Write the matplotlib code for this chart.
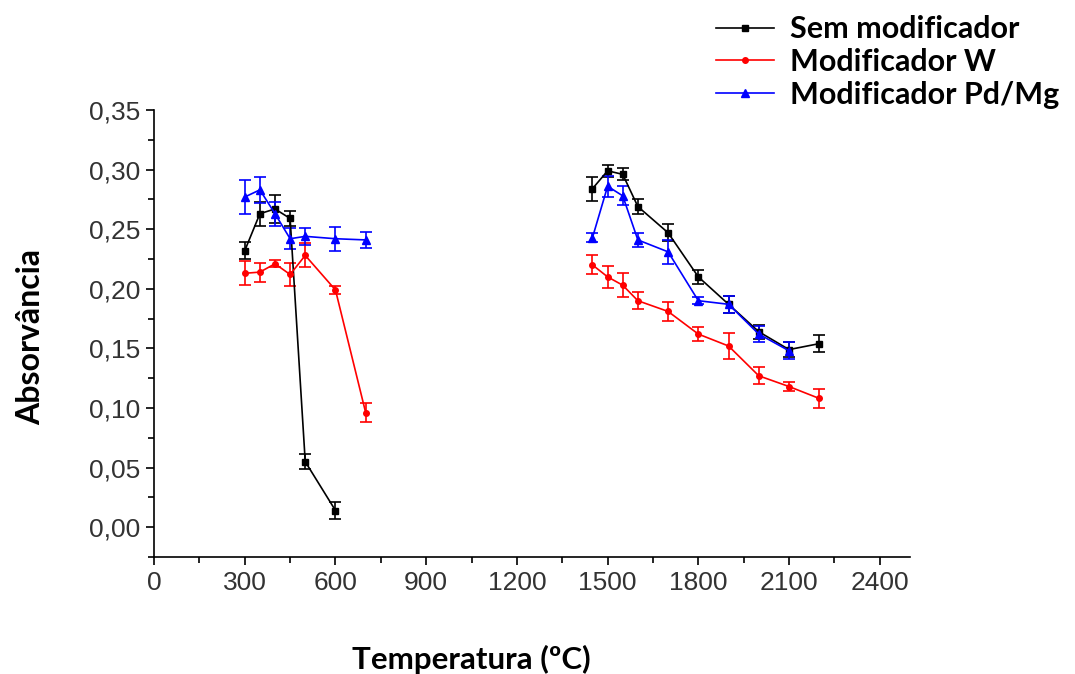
import matplotlib.pyplot as plt
from matplotlib.lines import Line2D
from matplotlib.ticker import MultipleLocator, FuncFormatter

# curvas de pirólise (temperaturas baixas)
t_pir_sem = [300, 350, 400, 450, 500, 600]
a_pir_sem = [0.232, 0.263, 0.267, 0.259, 0.055, 0.014]
e_pir_sem = [0.007, 0.010, 0.012, 0.006, 0.006, 0.007]

t_pir = [300, 350, 400, 450, 500, 600, 700]
a_pir_w = [0.213, 0.214, 0.221, 0.212, 0.228, 0.199, 0.096]
e_pir_w = [0.010, 0.008, 0.003, 0.010, 0.010, 0.003, 0.008]
a_pir_pdmg = [0.277, 0.283, 0.263, 0.242, 0.244, 0.242, 0.241]
e_pir_pdmg = [0.014, 0.011, 0.010, 0.009, 0.007, 0.010, 0.007]

# curvas de atomização (temperaturas altas)
t_atom = [1450, 1500, 1550, 1600, 1700, 1800, 1900, 2000, 2100, 2200]
a_atom_sem = [0.284, 0.299, 0.296, 0.269, 0.247, 0.210, 0.187, 0.164, 0.149, 0.154]
e_atom_sem = [0.010, 0.005, 0.005, 0.006, 0.007, 0.006, 0.007, 0.006, 0.006, 0.007]
a_atom_w = [0.220, 0.210, 0.203, 0.190, 0.181, 0.162, 0.152, 0.127, 0.118, 0.108]
e_atom_w = [0.008, 0.009, 0.010, 0.007, 0.008, 0.006, 0.011, 0.007, 0.004, 0.008]
t_atom_pdmg = [1450, 1500, 1550, 1600, 1700, 1800, 1900, 2000, 2100]
a_atom_pdmg = [0.243, 0.286, 0.278, 0.241, 0.231, 0.190, 0.187, 0.162, 0.148]
e_atom_pdmg = [0.004, 0.009, 0.008, 0.006, 0.010, 0.003, 0.007, 0.007, 0.007]

labels = ['Sem modificador', 'Modificador W', 'Modificador Pd/Mg']
colors = ['black', 'red', 'blue']
markers = ['s', 'o', '^']
msizes = [4, 4, 5.5]

series = [
    [(t_pir_sem, a_pir_sem, e_pir_sem), (t_atom, a_atom_sem, e_atom_sem)],
    [(t_pir, a_pir_w, e_pir_w), (t_atom, a_atom_w, e_atom_w)],
    [(t_pir, a_pir_pdmg, e_pir_pdmg), (t_atom_pdmg, a_atom_pdmg, e_atom_pdmg)],
]

fig = plt.figure(figsize=(10.75, 6.74), dpi=100)
ax = fig.add_axes([0.1433, 0.1736, 0.7032, 0.6632])

handles = []
for grupo, lab, c, m, ms in zip(series, labels, colors, markers, msizes):
    for t, a, e in grupo:
        ax.errorbar(t, a, yerr=e, color=c, marker=m, markersize=ms, lw=1.2,
                    elinewidth=1.2, capsize=4, capthick=1.2)
    handles.append(Line2D([], [], color=c, marker=m, markersize=ms, lw=1.2))

ax.set_xlim(0, 2500)
ax.set_ylim(-0.025, 0.35)
ax.xaxis.set_major_locator(MultipleLocator(300))
ax.xaxis.set_minor_locator(MultipleLocator(150))
ax.yaxis.set_major_locator(MultipleLocator(0.05))
ax.yaxis.set_minor_locator(MultipleLocator(0.025))
ax.yaxis.set_major_formatter(FuncFormatter(lambda v, p: f'{v:.2f}'.replace('.', ',')))

for s in ['top', 'right']:
    ax.spines[s].set_visible(False)
for s in ['left', 'bottom']:
    ax.spines[s].set_linewidth(1.2)

ax.tick_params(which='major', direction='out', length=6, width=1.2,
               labelsize=19, labelcolor='#333333', pad=4)
ax.tick_params(which='minor', direction='out', length=4, width=1.2)
for lbl in ax.get_xticklabels() + ax.get_yticklabels():
    lbl.set_family('Liberation Sans')

ax.set_xlabel('Temperatura (ºC)', family='Lato', fontweight='bold', fontsize=22.5)
ax.set_ylabel('Absorvância', family='Lato', fontweight='bold', fontsize=23)
ax.xaxis.set_label_coords(0.42, -0.197)
ax.yaxis.set_label_coords(-0.144, 0.492)

fig.legend(handles=handles, labels=labels, loc='upper left',
           bbox_to_anchor=(0.652, 1.0), frameon=False, borderpad=0,
           prop={'family': 'Lato', 'weight': 'bold', 'size': 22},
           handlelength=1.9, handletextpad=0.5, labelspacing=0.16)

fig.savefig('out.png', dpi=100)
